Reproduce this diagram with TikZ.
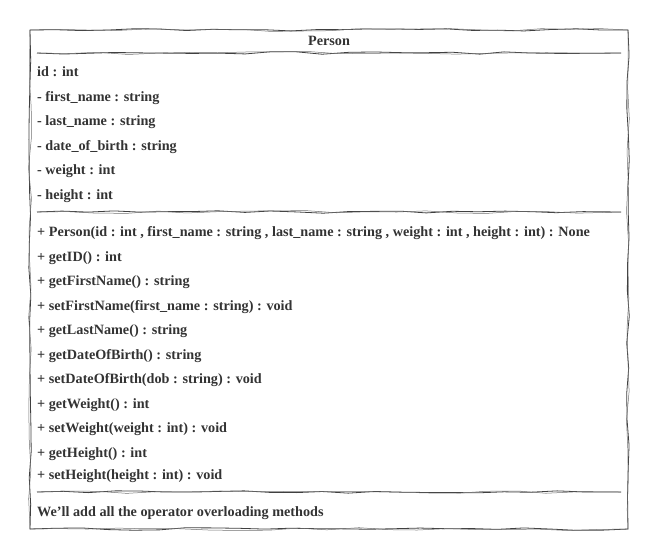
\documentclass[tikz,border=0pt]{standalone}
\usepackage{fontspec}
\setmainfont{Liberation Serif}
\usetikzlibrary{decorations.pathmorphing}
\definecolor{ink}{HTML}{404040}
\definecolor{txt}{HTML}{333333}
\tikzset{
  sketch/.style={draw=ink, line width=0.8pt, decorate, decoration={random steps, segment length=26pt, amplitude=1.3pt}},
  sketchb/.style={draw=ink!75, line width=0.5pt, decorate, decoration={random steps, segment length=30pt, amplitude=1.5pt}},
  row/.style={anchor=base west, inner sep=0pt, text=txt, font=\bfseries\fontsize{14.2}{16}\selectfont},
  title/.style={anchor=base, inner sep=0pt, text=txt, font=\bfseries\fontsize{14.2}{16}\selectfont},
}
\begin{document}
\pgfmathsetseed{7}
\begin{tikzpicture}[x=1pt, y=-1pt]
\useasboundingbox (0,0) rectangle (659,558);
\coordinate (tl) at (30,30);
\coordinate (tr) at (628,30);
\coordinate (br) at (628,529);
\coordinate (bl) at (30,529);
\draw[sketch] (tl) -- (tr) -- (br) -- (bl) -- cycle;
\draw[sketchb] (tl) -- (tr) -- (br) -- (bl) -- cycle;
\coordinate (s1a) at (37,53); \coordinate (s1b) at (621,53);
\coordinate (s2a) at (37,212); \coordinate (s2b) at (621,212);
\coordinate (s3a) at (37,492); \coordinate (s3b) at (621,492);
\draw[sketch] (s1a) -- (s1b); \draw[sketchb] (s1a) -- (s1b);
\draw[sketch] (s2a) -- (s2b); \draw[sketchb] (s2a) -- (s2b);
\draw[sketch] (s3a) -- (s3b); \draw[sketchb] (s3a) -- (s3b);
\node[title] (t) at (329,45) {Person};
\node[row] (a1) at (37,76.5) {id : int};
\node[row] (a2) at (37,101) {- first\_name : string};
\node[row] (a3) at (37,125.5) {- last\_name : string};
\node[row] (a4) at (37,150) {- date\_of\_birth : string};
\node[row] (a5) at (37,174.5) {- weight : int};
\node[row] (a6) at (37,199) {- height : int};
\node[row] (m1) at (37,236.5) {+ Person(id : int , first\_name : string , last\_name : string , weight : int , height : int) : None};
\node[row] (m2) at (37,261) {+ getID() : int};
\node[row] (m3) at (37,285.5) {+ getFirstName() : string};
\node[row] (m4) at (37,310) {+ setFirstName(first\_name : string) : void};
\node[row] (m5) at (37,334.5) {+ getLastName() : string};
\node[row] (m6) at (37,359) {+ getDateOfBirth() : string};
\node[row] (m7) at (37,383.5) {+ setDateOfBirth(dob : string) : void};
\node[row] (m8) at (37,408) {+ getWeight() : int};
\node[row] (m9) at (37,432.5) {+ setWeight(weight : int) : void};
\node[row] (m10) at (37,457) {+ getHeight() : int};
\node[row] (m11) at (37,479) {+ setHeight(height : int) : void};
\node[row] (n1) at (37,516) {We'll add all the operator overloading methods};
\end{tikzpicture}
\end{document}
